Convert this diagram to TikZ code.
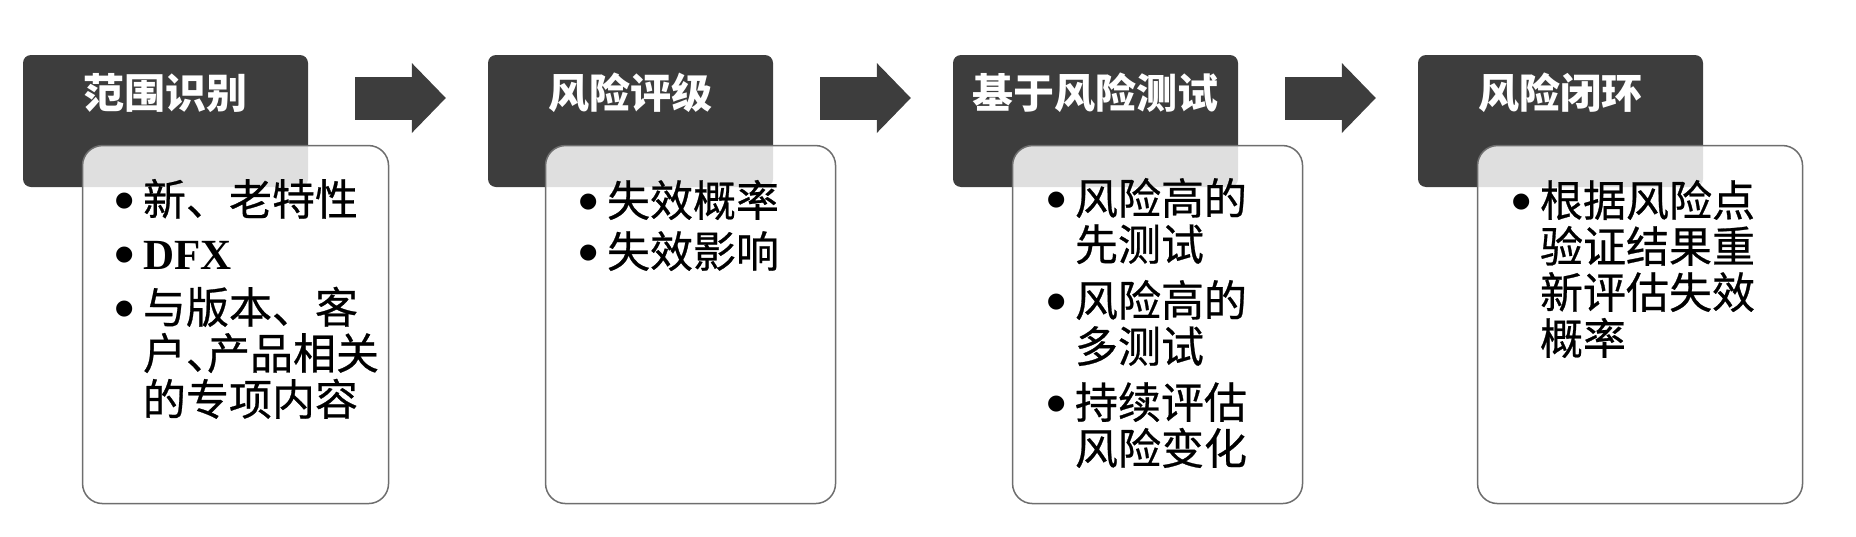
\documentclass[tikz,border=0pt]{standalone}
\usepackage{fontspec}
\setmainfont{Liberation Serif}
\newfontfamily\cjk{Noto Sans CJK SC}
\newfontfamily\cjkbody{Noto Sans CJK SC}[FakeBold=0.6]
\newfontfamily\symfont{DejaVu Sans}
\usetikzlibrary{arrows.meta,calc,positioning}
\definecolor{headgray}{HTML}{3D3D3D}
\definecolor{cardline}{HTML}{6E6E6E}
\newcommand{\itm}{\makebox[28pt][l]{\raisebox{9pt}{\symfont\fontsize{21}{21}\selectfont ●}}}
\newcommand{\cnt}{\hspace*{28pt}}
\newcommand{\dun}{\makebox[21pt][l]{、}}
\tikzstyle{head} = [rectangle, rounded corners=8pt, fill=headgray, minimum width=285pt, inner xsep=0pt, inner ysep=0pt, text height=53pt, text depth=79pt, text=white, font=\cjk\bfseries\fontsize{41}{41}\selectfont]
\tikzstyle{card} = [rectangle, rounded corners=20pt, draw=cardline, line width=1.5pt, fill=white, fill opacity=0.84, minimum height=358pt, anchor=north west]
\tikzstyle{items} = [anchor=north west, inner sep=0pt, align=left, font=\cjkbody\fontsize{43}{46}\selectfont]
\tikzstyle{flow} = [draw=headgray, line width=43pt, -{Triangle[length=34pt 0 0, width=70pt 0 0, line width=0pt 0 0]}]

\begin{document}
\begin{tikzpicture}[x=1pt, y=-1pt, node distance=465pt]
    \useasboundingbox (0,0) rectangle (1856,536);
    % title boxes
    \node (scope) [head] at (165.5,121) {范围识别};
    \node (rating) [head, right of=scope] {风险评级};
    \node (test) [head, right of=rating] {基于风险测试};
    \node (close) [head, right of=test] {风险闭环};

    % content cards
    \node (scopeCard) [card, minimum width=306pt] at ($(scope.north west)+(59,90)$) {};
    \node (ratingCard) [card, minimum width=290pt] at ($(rating.north west)+(57,90)$) {};
    \node (testCard) [card, minimum width=290pt] at ($(test.north west)+(59,90)$) {};
    \node (closeCard) [card, minimum width=325pt] at ($(close.north west)+(59,90)$) {};

    \node (scopeText) [items] at ($(scopeCard.north west)+(33,34)$)
        {\itm 新、老特性\\[8pt] \itm{\rmfamily\bfseries DFX}\\[8pt] \itm 与版本、客\\ \cnt 户\dun 产品相关\\ \cnt 的专项内容};
    \node (ratingText) [items] at ($(ratingCard.north west)+(34,35)$)
        {\itm 失效概率\\[5pt] \itm 失效影响};
    \node (testText) [items] at ($(testCard.north west)+(35,33)$)
        {\itm 风险高的\\ \cnt 先测试\\[10pt] \itm 风险高的\\ \cnt 多测试\\[10pt] \itm 持续评估\\ \cnt 风险变化};
    \node (closeText) [items] at ($(closeCard.north west)+(35,35)$)
        {\itm 根据风险点\\ \cnt 验证结果重\\ \cnt 新评估失效\\ \cnt 概率};

    % arrows between stages
    \path [flow] ($(scope.east)+(47,-23)$) -- ($(rating.west)+(-42,-23)$);
    \path [flow] ($(rating.east)+(47,-23)$) -- ($(test.west)+(-42,-23)$);
    \path [flow] ($(test.east)+(47,-23)$) -- ($(close.west)+(-42,-23)$);
\end{tikzpicture}
\end{document}
